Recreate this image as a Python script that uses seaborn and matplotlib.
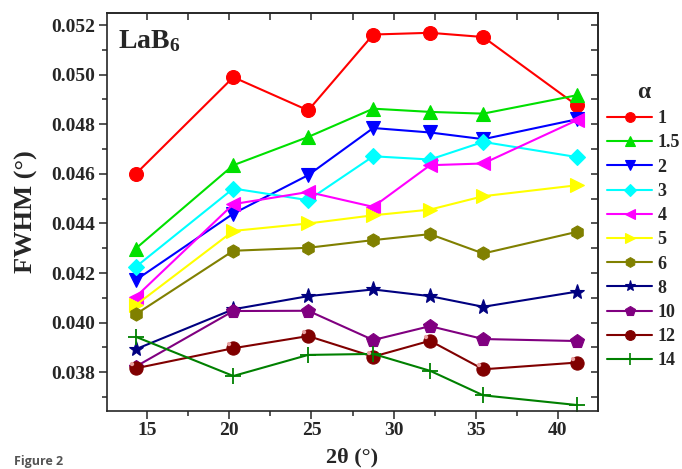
import matplotlib
matplotlib.use("Agg")
import matplotlib.pyplot as plt
import seaborn as sns
import pandas as pd
from matplotlib.lines import Line2D
from matplotlib.ticker import MultipleLocator, FormatStrFormatter

# ---------------- data ----------------
two_theta = [14.3, 20.24, 24.8, 28.76, 32.22, 35.46, 41.15]
alpha_labels = ["1", "1.5", "2", "3", "4", "5", "6", "8", "10", "12", "14"]

fwhm_a1 = [0.04600, 0.04990, 0.04856, 0.05162, 0.05169, 0.05152, 0.04877]
fwhm_a1_5 = [0.04299, 0.04635, 0.04749, 0.04863, 0.04850, 0.04843, 0.04917]
fwhm_a2 = [0.04172, 0.04440, 0.04595, 0.04785, 0.04767, 0.04740, 0.04820]
fwhm_a3 = [0.04225, 0.04541, 0.04494, 0.04671, 0.04658, 0.04729, 0.04668]
fwhm_a4 = [0.04104, 0.04478, 0.04527, 0.04467, 0.04635, 0.04642, 0.04816]
fwhm_a5 = [0.04071, 0.04370, 0.04400, 0.04433, 0.04456, 0.04510, 0.04554]
fwhm_a6 = [0.04034, 0.04290, 0.04302, 0.04333, 0.04357, 0.04279, 0.04366]
fwhm_a8 = [0.03893, 0.04054, 0.04107, 0.04134, 0.04107, 0.04064, 0.04125]
fwhm_a10 = [0.03823, 0.04047, 0.04048, 0.03930, 0.03986, 0.03934, 0.03926]
fwhm_a12 = [0.03816, 0.03897, 0.03946, 0.03863, 0.03927, 0.03812, 0.03839]
fwhm_a14 = [0.03943, 0.03785, 0.03870, 0.03874, 0.03806, 0.03707, 0.03668]

series_values = [fwhm_a1, fwhm_a1_5, fwhm_a2, fwhm_a3, fwhm_a4, fwhm_a5,
                 fwhm_a6, fwhm_a8, fwhm_a10, fwhm_a12, fwhm_a14]

colors = ["#FF0000", "#00E000", "#0000FF", "#00FFFF", "#FF00FF", "#FFFF00",
          "#808000", "#000080", "#800080", "#800000", "#008000"]
markers = ["o", "^", "v", "D", "<", ">", "h", "*", "p", "o", "+"]
msizes = [10, 10, 10, 8.5, 10, 10, 9.5, 11, 10, 9.5, 11]
legend_msizes = [7, 7, 7, 6, 7, 7, 7, 8, 7, 7, 8]

# ---------------- style ----------------
sns.set_style("ticks")
plt.rcParams["font.family"] = ["Liberation Serif", "DejaVu Serif"]
plt.rcParams["font.weight"] = "bold"
plt.rcParams["mathtext.fontset"] = "custom"
plt.rcParams["mathtext.rm"] = "Liberation Serif:bold"
plt.rcParams["mathtext.bf"] = "Liberation Serif:bold"
plt.rcParams["mathtext.it"] = "Liberation Serif:italic:bold"
plt.rcParams["axes.linewidth"] = 1.2

fig = plt.figure(figsize=(6.82, 4.69), dpi=100)
ax = fig.add_axes([0.1565, 0.1243, 0.7208, 0.8486])

rows = []
for lab, vals in zip(alpha_labels, series_values):
    for x, y in zip(two_theta, vals):
        rows.append({"two_theta": x, "fwhm": y, "alpha": lab})
df = pd.DataFrame(rows)

for lab, c, m, ms in zip(alpha_labels, colors, markers, msizes):
    sub = df[df["alpha"] == lab]
    kw = dict(marker=m, markersize=ms, markeredgecolor=c, markerfacecolor=c)
    kw["markeredgewidth"] = 1.3 if m == "+" else 0.8
    sns.lineplot(data=sub, x="two_theta", y="fwhm", ax=ax, color=c,
                 linewidth=1.5, legend=False, errorbar=None, **kw)

# highlight on the "ball" markers of alpha = 12
sub12 = df[df["alpha"] == "12"]
ax.plot(sub12["two_theta"], sub12["fwhm"], linestyle="none",
        marker=matplotlib.markers.MarkerStyle(
            matplotlib.path.Path.circle(center=(-0.25, 0.25), radius=0.12)),
        markersize=9.5, markerfacecolor="#e8a0a0", markeredgewidth=0, zorder=5)

ax.set_xlim(12.53, 42.47)
ax.set_ylim(0.03645, 0.0525)
ax.xaxis.set_major_locator(MultipleLocator(5))
ax.xaxis.set_minor_locator(MultipleLocator(2.5))
ax.yaxis.set_major_locator(MultipleLocator(0.002))
ax.yaxis.set_minor_locator(MultipleLocator(0.001))
ax.yaxis.set_major_formatter(FormatStrFormatter("%.3f"))
ax.tick_params(which="major", direction="out", length=6, width=1.1,
               labelsize=14, pad=2)
ax.tick_params(which="minor", direction="out", length=3.5, width=1.1)
for t in ax.get_xticklabels() + ax.get_yticklabels():
    t.set_fontweight("bold")

top = ax.secondary_xaxis("top")
top.xaxis.set_major_locator(MultipleLocator(5))
top.xaxis.set_minor_locator(MultipleLocator(2.5))
top.tick_params(axis="x", which="both", direction="in", length=5, width=1.1,
                labeltop=False, labelbottom=False)
right = ax.secondary_yaxis("right")
right.yaxis.set_major_locator(MultipleLocator(0.002))
right.yaxis.set_minor_locator(MultipleLocator(0.001))
right.tick_params(axis="y", which="both", direction="in", length=5, width=1.1,
                  labelright=False, labelleft=False)

ax.set_xlabel("2θ (°)", fontsize=16, fontweight="bold", labelpad=6)
ax.set_ylabel("")
fig.text(26 / 682, 1 - 212 / 469, "FWHM (°)", rotation=90, ha="center",
         va="center", fontsize=19, fontweight="bold")

ax.text(0.023, 0.911, r"LaB$_{6}$", transform=ax.transAxes, fontsize=20,
        fontweight="bold", ha="left", va="baseline")

handles = []
for c, m, ms in zip(colors, markers, legend_msizes):
    handles.append(Line2D([], [], color=c, linewidth=1.5, marker=m,
                          markersize=ms, markerfacecolor=c, markeredgecolor=c,
                          markeredgewidth=1.2 if m == "+" else 0.8))
leg = ax.legend(handles, alpha_labels, title="α", loc="upper left",
                bbox_to_anchor=(607 / 682, 1 - 82 / 469),
                bbox_transform=fig.transFigure, frameon=False, borderpad=0,
                borderaxespad=0, handlelength=2.5, handletextpad=0.3,
                labelspacing=0.4,
                prop={"weight": "bold", "size": 13},
                title_fontproperties={"weight": "bold", "size": 17})

fig.text(14 / 682, 1 / 469, "Figure 2", ha="left", va="bottom",
         fontsize=9, color="#555555", family="Open Sans")

fig.savefig("out.png", dpi=100)
